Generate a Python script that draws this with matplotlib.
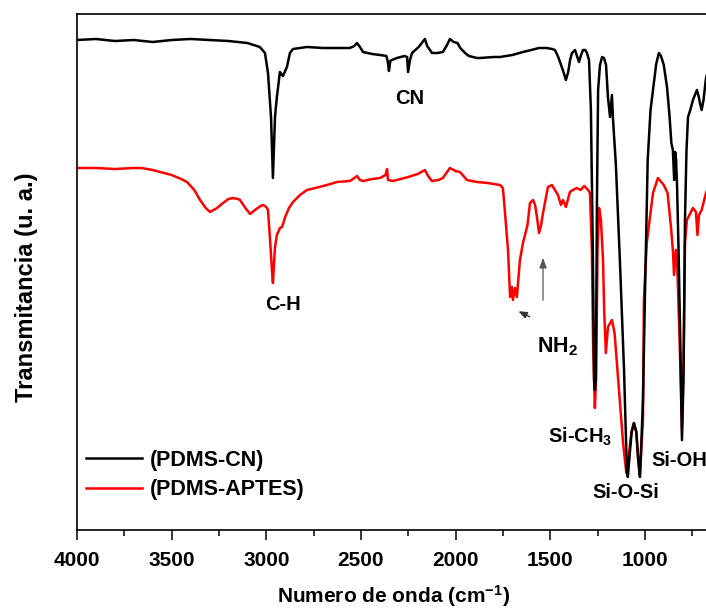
import matplotlib
matplotlib.use("Agg")
import matplotlib.pyplot as plt
from matplotlib.ticker import MultipleLocator

plt.rcParams['font.family'] = ['Liberation Sans', 'DejaVu Sans']
plt.rcParams['font.weight'] = 'bold'
plt.rcParams['mathtext.default'] = 'regular'

# PDMS-CN spectrum: wavenumber (cm-1) and transmittance (arbitrary units)
cn_wn = [4000, 3900, 3800, 3700, 3600, 3500, 3400, 3300, 3200, 3100, 3034, 3007, 2991,
         2975, 2965, 2954, 2944, 2928, 2912, 2891, 2875, 2859, 2822, 2785, 2700, 2600,
         2558, 2535, 2521, 2505, 2489, 2440, 2399, 2365, 2358, 2352, 2345, 2336, 2310,
         2270, 2256, 2251, 2241, 2230, 2195, 2170, 2162, 2150, 2135, 2125, 2095, 2067,
         2045, 2030, 2010, 1990, 1975, 1950, 1930, 1887, 1871, 1800, 1765, 1700, 1644,
         1600, 1560, 1518, 1490, 1475, 1460, 1448, 1430, 1417, 1405, 1395, 1385, 1369,
         1360, 1348, 1337, 1327, 1315, 1306, 1295, 1285, 1275, 1268, 1264, 1259, 1253,
         1247, 1237, 1226, 1216, 1205, 1195, 1184, 1174, 1168, 1153, 1132, 1110, 1095,
         1090, 1080, 1070, 1058, 1045, 1035, 1026, 1018, 1010, 1000, 985, 970, 957,
         940, 926, 915, 900, 883, 870, 860, 852, 845, 840, 835, 830, 822, 812, 804,
         796, 788, 780, 772, 760, 746, 725, 715, 709, 700, 690, 677, 665, 650]
cn_t = [490, 491, 489, 490, 488, 490, 491, 490, 489, 487, 483, 477, 457,
        413, 352, 413, 433, 458, 454, 463, 477, 481, 482, 483, 482, 482,
        482, 484, 487, 483, 478, 476, 475, 474, 468, 459, 469, 470, 472,
        474, 473, 458, 470, 477, 483, 489, 491, 484, 480, 477, 477, 478,
        485, 491, 488, 487, 482, 477, 474, 472, 472, 473, 473, 475, 478,
        480, 482, 482, 481, 480, 474, 468, 458, 450, 458, 470, 477, 480,
        475, 468, 475, 480, 480, 477, 470, 420, 280, 150, 140, 150, 330,
        440, 465, 473, 472, 465, 433, 413, 435, 410, 365, 270, 160, 60,
        53, 75, 98, 107, 98, 70, 53, 90, 130, 230, 370, 420, 440,
        466, 477, 474, 465, 443, 415, 387, 380, 350, 378, 370, 345, 280, 180, 90,
        150, 310, 380, 413, 420, 430, 440, 433, 427, 420, 430, 452, 460, 455]

# PDMS-APTES spectrum
ap_wn = [4000, 3900, 3800, 3700, 3660, 3600, 3561, 3500, 3450, 3419, 3380, 3350, 3320,
         3297, 3260, 3229, 3200, 3176, 3150, 3139, 3110, 3086, 3060, 3030, 3017, 3000,
         2991, 2980, 2970, 2965, 2958, 2954, 2944, 2928, 2917, 2900, 2880, 2859, 2822,
         2785, 2720, 2660, 2627, 2558, 2535, 2521, 2505, 2489, 2440, 2399, 2370, 2362,
         2357, 2330, 2310, 2250, 2200, 2162, 2145, 2125, 2090, 2067, 2045, 2030, 2000,
         1977, 1940, 1887, 1830, 1765, 1750, 1740, 1723, 1712, 1702, 1697, 1686, 1676,
         1660, 1644, 1620, 1607, 1591, 1580, 1570, 1559, 1548, 1538, 1512, 1491, 1475,
         1459, 1443, 1433, 1417, 1396, 1380, 1360, 1340, 1320, 1300, 1290, 1280, 1273,
         1264, 1258, 1250, 1242, 1232, 1221, 1215, 1206, 1195, 1174, 1160, 1142, 1115,
         1098, 1085, 1070, 1058, 1045, 1035, 1026, 1010, 1005, 990, 957, 931, 900,
         880, 862, 851, 846, 836, 828, 815, 804, 795, 788, 778, 746, 730, 722, 714,
         700, 677, 660]
ap_t = [362, 362, 361, 362, 362, 360, 358, 355, 351, 348, 340, 330, 322,
        318, 322, 327, 331, 332, 331, 330, 322, 316, 320, 324, 325, 323,
        320, 290, 260, 247, 270, 283, 295, 302, 303, 313, 322, 328, 335,
        340, 343, 346, 348, 349, 352, 354, 350, 349, 351, 352, 355, 361,
        350, 349, 350, 353, 356, 360, 354, 349, 350, 352, 358, 362, 359,
        358, 350, 348, 347, 345, 342, 320, 280, 233, 243, 230, 242, 233,
        270, 287, 305, 327, 330, 325, 313, 297, 305, 317, 343, 345, 340,
        335, 325, 330, 323, 338, 340, 342, 340, 344, 340, 337, 280, 180,
        122, 150, 280, 322, 310, 270, 220, 177, 203, 210, 197, 153, 87,
        57, 75, 98, 107, 98, 70, 55, 110, 230, 287, 337, 352, 345,
        337, 303, 277, 255, 280, 260, 180, 100, 170, 287, 310, 322, 318, 295, 315,
        320, 337, 345]

tick_values = [4000, 3500, 3000, 2500, 2000, 1500, 1000]
series_labels = ['(PDMS-CN)', '(PDMS-APTES)']

fig = plt.figure(figsize=(7.06, 6.12), dpi=100)
ax = fig.add_axes([77 / 706, 82 / 612, 643 / 706, 516 / 612])

ax.plot(ap_wn, ap_t, color='#ff0000', lw=1.8, label=series_labels[1], zorder=2)
ax.plot(cn_wn, cn_t, color='black', lw=1.8, label=series_labels[0], zorder=3)

ax.set_xlim(4000, 603)
ax.set_ylim(0, 516)
ax.set_xticks(tick_values)
ax.xaxis.set_minor_locator(MultipleLocator(250))
ax.tick_params(axis='x', which='major', direction='out', length=7, width=1.1,
               labelsize=15, pad=8, top=False)
ax.tick_params(axis='x', which='minor', direction='out', length=4.3, width=1.1, top=False)
ax.tick_params(axis='y', left=False, labelleft=False)
for lab in ax.get_xticklabels():
    lab.set_fontweight('bold')
for sp in ax.spines.values():
    sp.set_linewidth(1.2)

fs = 14.5
ax.text(2241, 432, 'CN', fontsize=fs, fontweight='bold', ha='center', va='center')
ax.text(2912, 226, 'C-H', fontsize=fs, fontweight='bold', ha='center', va='center')
ax.text(1464, 183, 'NH$_2$', fontsize=fs + 1, fontweight='bold', ha='center', va='center')
ax.text(1343, 93, 'Si-CH$_3$', fontsize=fs, fontweight='bold', ha='center', va='center')
ax.text(1100, 37, 'Si-O-Si', fontsize=fs, fontweight='bold', ha='center', va='center')
ax.text(968, 70, 'Si-OH', fontsize=fs, fontweight='bold', ha='left', va='center')

ax.annotate('', xy=(1681, 220), xytext=(1596, 212),
            arrowprops=dict(arrowstyle='-|>,head_length=0.5,head_width=0.2',
                            color='#333333', lw=1.0))
ax.annotate('', xy=(1538, 275), xytext=(1538, 227),
            arrowprops=dict(arrowstyle='-|>,head_length=0.6,head_width=0.22',
                            color='#555555', lw=0.9))

handles, labels = ax.get_legend_handles_labels()
order = [1, 0]
ax.legend([handles[i] for i in order], [labels[i] for i in order],
          loc='upper left', bbox_to_anchor=(0.014, 0.155), frameon=False,
          borderpad=0, borderaxespad=0, handlelength=2.6, handletextpad=0.35,
          labelspacing=0.39, prop={'size': 15.5, 'weight': 'bold'})

fig.text(27 / 706, 1 - 287 / 612, 'Transmitancia (u. a.)', rotation=90,
         fontsize=17, fontweight='bold', ha='center', va='center')
fig.text(394 / 706, 1 - 609 / 612, 'Numero de onda (cm$^{-1}$)',
         fontsize=15, fontweight='bold', ha='center', va='bottom')

fig.savefig('out.png', dpi=100, facecolor='white')
